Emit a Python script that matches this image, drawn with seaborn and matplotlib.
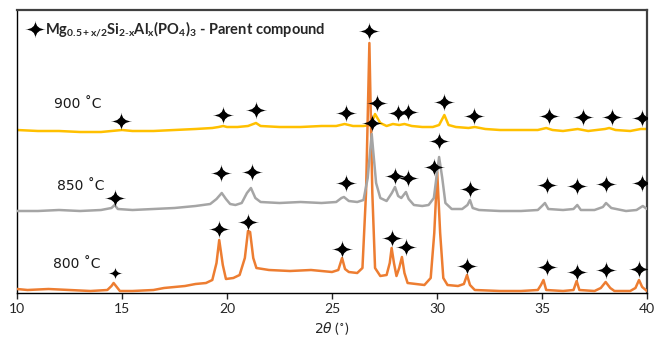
import numpy as np
import pandas as pd
import matplotlib
matplotlib.use("Agg")
import matplotlib.pyplot as plt
from matplotlib.path import Path
from matplotlib.lines import Line2D
import seaborn as sns

# ---------------- data ----------------
x_800 = [10.0, 10.5, 11.5, 12.5, 13.5, 14.3, 14.5, 14.6, 14.75, 14.9, 15.5, 16.5, 17.0, 17.5,
         18.0, 18.5, 19.0, 19.3, 19.5, 19.63, 19.8, 19.95, 20.3, 20.6, 20.85, 21.0, 21.1,
         21.25, 21.4, 22.0, 23.0, 24.0, 25.0, 25.3, 25.48, 25.62, 25.8, 26.2, 26.45, 26.62,
         26.78, 26.92, 27.05, 27.3, 27.6, 27.75, 27.84, 27.95, 28.07, 28.2, 28.33, 28.45,
         28.6, 29.0, 29.4, 29.7, 29.87, 30.01, 30.15, 30.3, 30.5, 31.0, 31.28, 31.43, 31.57,
         31.8, 33.0, 34.0, 34.8, 34.95, 35.07, 35.2, 36.0, 36.5, 36.65, 36.78, 37.5, 37.8,
         38.03, 38.25, 38.45, 39.2, 39.45, 39.62, 39.77, 40.0]
y_800 = [4, 3, 4, 3, 2, 3, 7, 10, 6, 2, 2, 3, 5, 6,
         7, 9, 10, 13, 30, 53, 28, 14, 15, 18, 35, 62, 61,
         35, 25, 23, 22, 23, 21, 23, 35, 24, 21, 20, 25, 100,
         250, 100, 25, 17, 18, 30, 45, 30, 17, 25, 36, 20,
         10, 9, 8, 15, 60, 121, 60, 15, 8, 7, 9, 18, 8,
         3, 2, 2, 3, 8, 13, 3, 2, 3, 12, 3, 2, 5,
         11, 5, 2, 2, 5, 13, 6, 2]

x_850 = [10.0, 11.0, 12.0, 13.0, 14.0, 14.5, 14.65, 14.8, 15.5, 16.5, 17.5, 18.5, 19.2, 19.5,
         19.75, 19.95, 20.15, 20.4, 20.7, 20.95, 21.14, 21.35, 21.6, 22.5, 23.5, 24.5, 25.2,
         25.45, 25.57, 25.8, 26.2, 26.5, 26.7, 26.89, 27.1, 27.3, 27.6, 27.85, 28.0, 28.15,
         28.3, 28.52, 28.65, 28.9, 29.3, 29.6, 29.85, 30.0, 30.1, 30.25, 30.4, 30.7, 31.2,
         31.45, 31.57, 31.7, 32.0, 33.0, 34.0, 34.8, 35.0, 35.14, 35.3, 36.0, 36.5, 36.68,
         36.85, 37.5, 37.9, 38.05, 38.3, 39.0, 39.5, 39.8, 40.0]
y_850 = [82, 82, 83, 82, 83, 85, 88, 84, 83, 84, 85, 87, 89, 94,
         100, 94, 89, 88, 90, 100, 105, 95, 91, 90, 91, 90, 91,
         95, 96, 92, 91, 93, 115, 159, 110, 95, 92, 100, 106, 97,
         95, 101, 94, 88, 87, 88, 95, 120, 136, 115, 90, 84, 84,
         88, 93, 85, 83, 82, 82, 83, 87, 90, 84, 83, 84, 88,
         83, 83, 86, 90, 85, 82, 83, 87, 84]

x_900 = [10.0, 11.0, 12.0, 13.0, 14.0, 14.5, 15.0, 15.5, 16.5, 17.5, 18.5, 19.3, 19.6, 19.82,
         20.0, 20.5, 21.0, 21.38, 21.6, 22.5, 23.5, 24.5, 25.2, 25.6, 26.0, 26.5, 26.85,
         27.05, 27.3, 27.6, 27.9, 28.2, 28.45, 28.8, 29.3, 29.8, 30.1, 30.35, 30.55, 30.9,
         31.5, 31.8, 32.3, 33.0, 34.0, 34.8, 35.2, 35.5, 36.0, 36.7, 37.2, 38.0, 38.2,
         38.5, 39.2, 39.7, 40.0]
y_900 = [163, 162, 162, 161, 161, 162, 163, 162, 162, 163, 164, 165, 166, 167,
         166, 166, 167, 170, 167, 166, 166, 167, 167, 169, 167, 167, 168,
         179, 170, 167, 169, 168, 169, 167, 166, 166, 168, 178, 168, 166,
         165, 166, 164, 163, 163, 163, 165, 163, 162, 164, 162, 164, 165,
         163, 162, 164, 164]

# star markers (parent compound reflections)
star_x_800 = [14.67, 19.62, 21.0, 25.48, 26.76, 27.86, 28.52, 29.86, 31.43, 35.24, 36.67, 38.05, 39.62]
star_y_800 = [20, 64, 71, 44, 262, 55, 46, 126, 27, 26, 21, 23, 24]
star_x_850 = [14.67, 19.71, 21.19, 25.67, 26.9, 28.0, 28.62, 30.1, 31.57, 35.24, 36.67, 38.05, 39.76]
star_y_850 = [95, 120, 121, 110, 170, 117, 115, 152, 104, 108, 107, 109, 110]
star_x_900 = [14.95, 19.81, 21.38, 25.67, 27.14, 28.14, 28.62, 30.33, 31.76, 35.33, 36.95, 38.33, 39.76]
star_y_900 = [172, 178, 183, 180, 190, 180, 181, 191, 177, 177, 176, 176, 175]

series_names = ["800 ˚C", "850 ˚C", "900 ˚C"]
x_ticks = [10, 15, 20, 25, 30, 35, 40]
legend_label = (r"$\mathbf{Mg_{0.5+x/2}Si_{2\text{-}x}Al_{x}(PO_{4})_{3}}$"
                " - Parent compound")

# ---------------- style ----------------
sns.set_theme(style="white")
plt.rcParams["font.family"] = ["Lato", "DejaVu Sans"]
plt.rcParams["mathtext.fontset"] = "custom"
plt.rcParams["mathtext.rm"] = "Lato"
plt.rcParams["mathtext.it"] = "Lato:italic"
plt.rcParams["mathtext.bf"] = "Lato:bold"

colors = {"800 ˚C": "#ED7D31", "850 ˚C": "#A5A5A5", "900 ˚C": "#FFC000"}

# 4-pointed star marker with concave sides
c = 0.04
verts = [(1.2, 0), (c, c), (0, 1), (-c, c), (-1.2, 0), (-c, -c), (0, -1), (c, -c), (1.2, 0)]
codes = [Path.MOVETO, Path.CURVE3, Path.CURVE3, Path.CURVE3, Path.CURVE3,
         Path.CURVE3, Path.CURVE3, Path.CURVE3, Path.CURVE3]
star = Path(verts, codes)
star_size = 240
small_star_size = 110

fig = plt.figure(figsize=(6.55, 3.38), dpi=100)
ax = fig.add_axes([17 / 655, 45 / 338, 630 / 655, 283 / 338])

traces = [("800 ˚C", x_800, y_800, 3), ("900 ˚C", x_900, y_900, 2), ("850 ˚C", x_850, y_850, 4)]
for name, xs, ys, z in traces:
    df = pd.DataFrame({"x": xs, "y": ys})
    sns.lineplot(data=df, x="x", y="y", color=colors[name], lw=1.8, sort=False,
                 estimator=None, ax=ax, zorder=z)

# first 800 ˚C star is drawn smaller in the reference
ax.scatter(star_x_800[:1], star_y_800[:1], marker=star, s=small_star_size, color="black",
           linewidths=0, zorder=6)
for sx, sy in [(star_x_800[1:], star_y_800[1:]), (star_x_850, star_y_850), (star_x_900, star_y_900)]:
    ax.scatter(sx, sy, marker=star, s=star_size, color="black", linewidths=0, zorder=6)

ax.set_xlim(10, 40)
ax.set_ylim(0, 283)
ax.set_xticks(x_ticks)
ax.set_xticklabels([str(t) for t in x_ticks])
ax.set_yticks([])
ax.set_xlabel(r"$\mathit{2\theta}$ (˚)", fontsize=10, color="#262626", labelpad=4,
              math_fontfamily="dejavusans")
ax.set_ylabel("")
ax.tick_params(axis="x", direction="out", length=4, width=1, colors="#262626",
               labelsize=10, pad=3, bottom=True)

for side in ["left", "bottom"]:
    ax.spines[side].set_color("black")
    ax.spines[side].set_linewidth(1.0)
for side in ["top", "right"]:
    ax.spines[side].set_color("#404040")
    ax.spines[side].set_linewidth(1.6)

label_pos = {"800 ˚C": (12.86, 29), "850 ˚C": (13.05, 107), "900 ˚C": (12.9, 189)}
for name in series_names:
    lx, ly = label_pos[name]
    ax.text(lx, ly, name, ha="center", va="center", fontsize=10,
            family="DejaVu Sans", color="#1a1a1a")

handle = Line2D([], [], marker=star, ms=15, color="black", ls="none", markeredgewidth=0)
leg = ax.legend([handle], [legend_label], loc="upper left", bbox_to_anchor=(0.0, 1.0),
                frameon=False, handletextpad=0.15, handlelength=1.2, borderaxespad=0.2,
                prop={"family": "Lato", "weight": "bold", "size": 10.5})

fig.savefig("out.png", dpi=100)
